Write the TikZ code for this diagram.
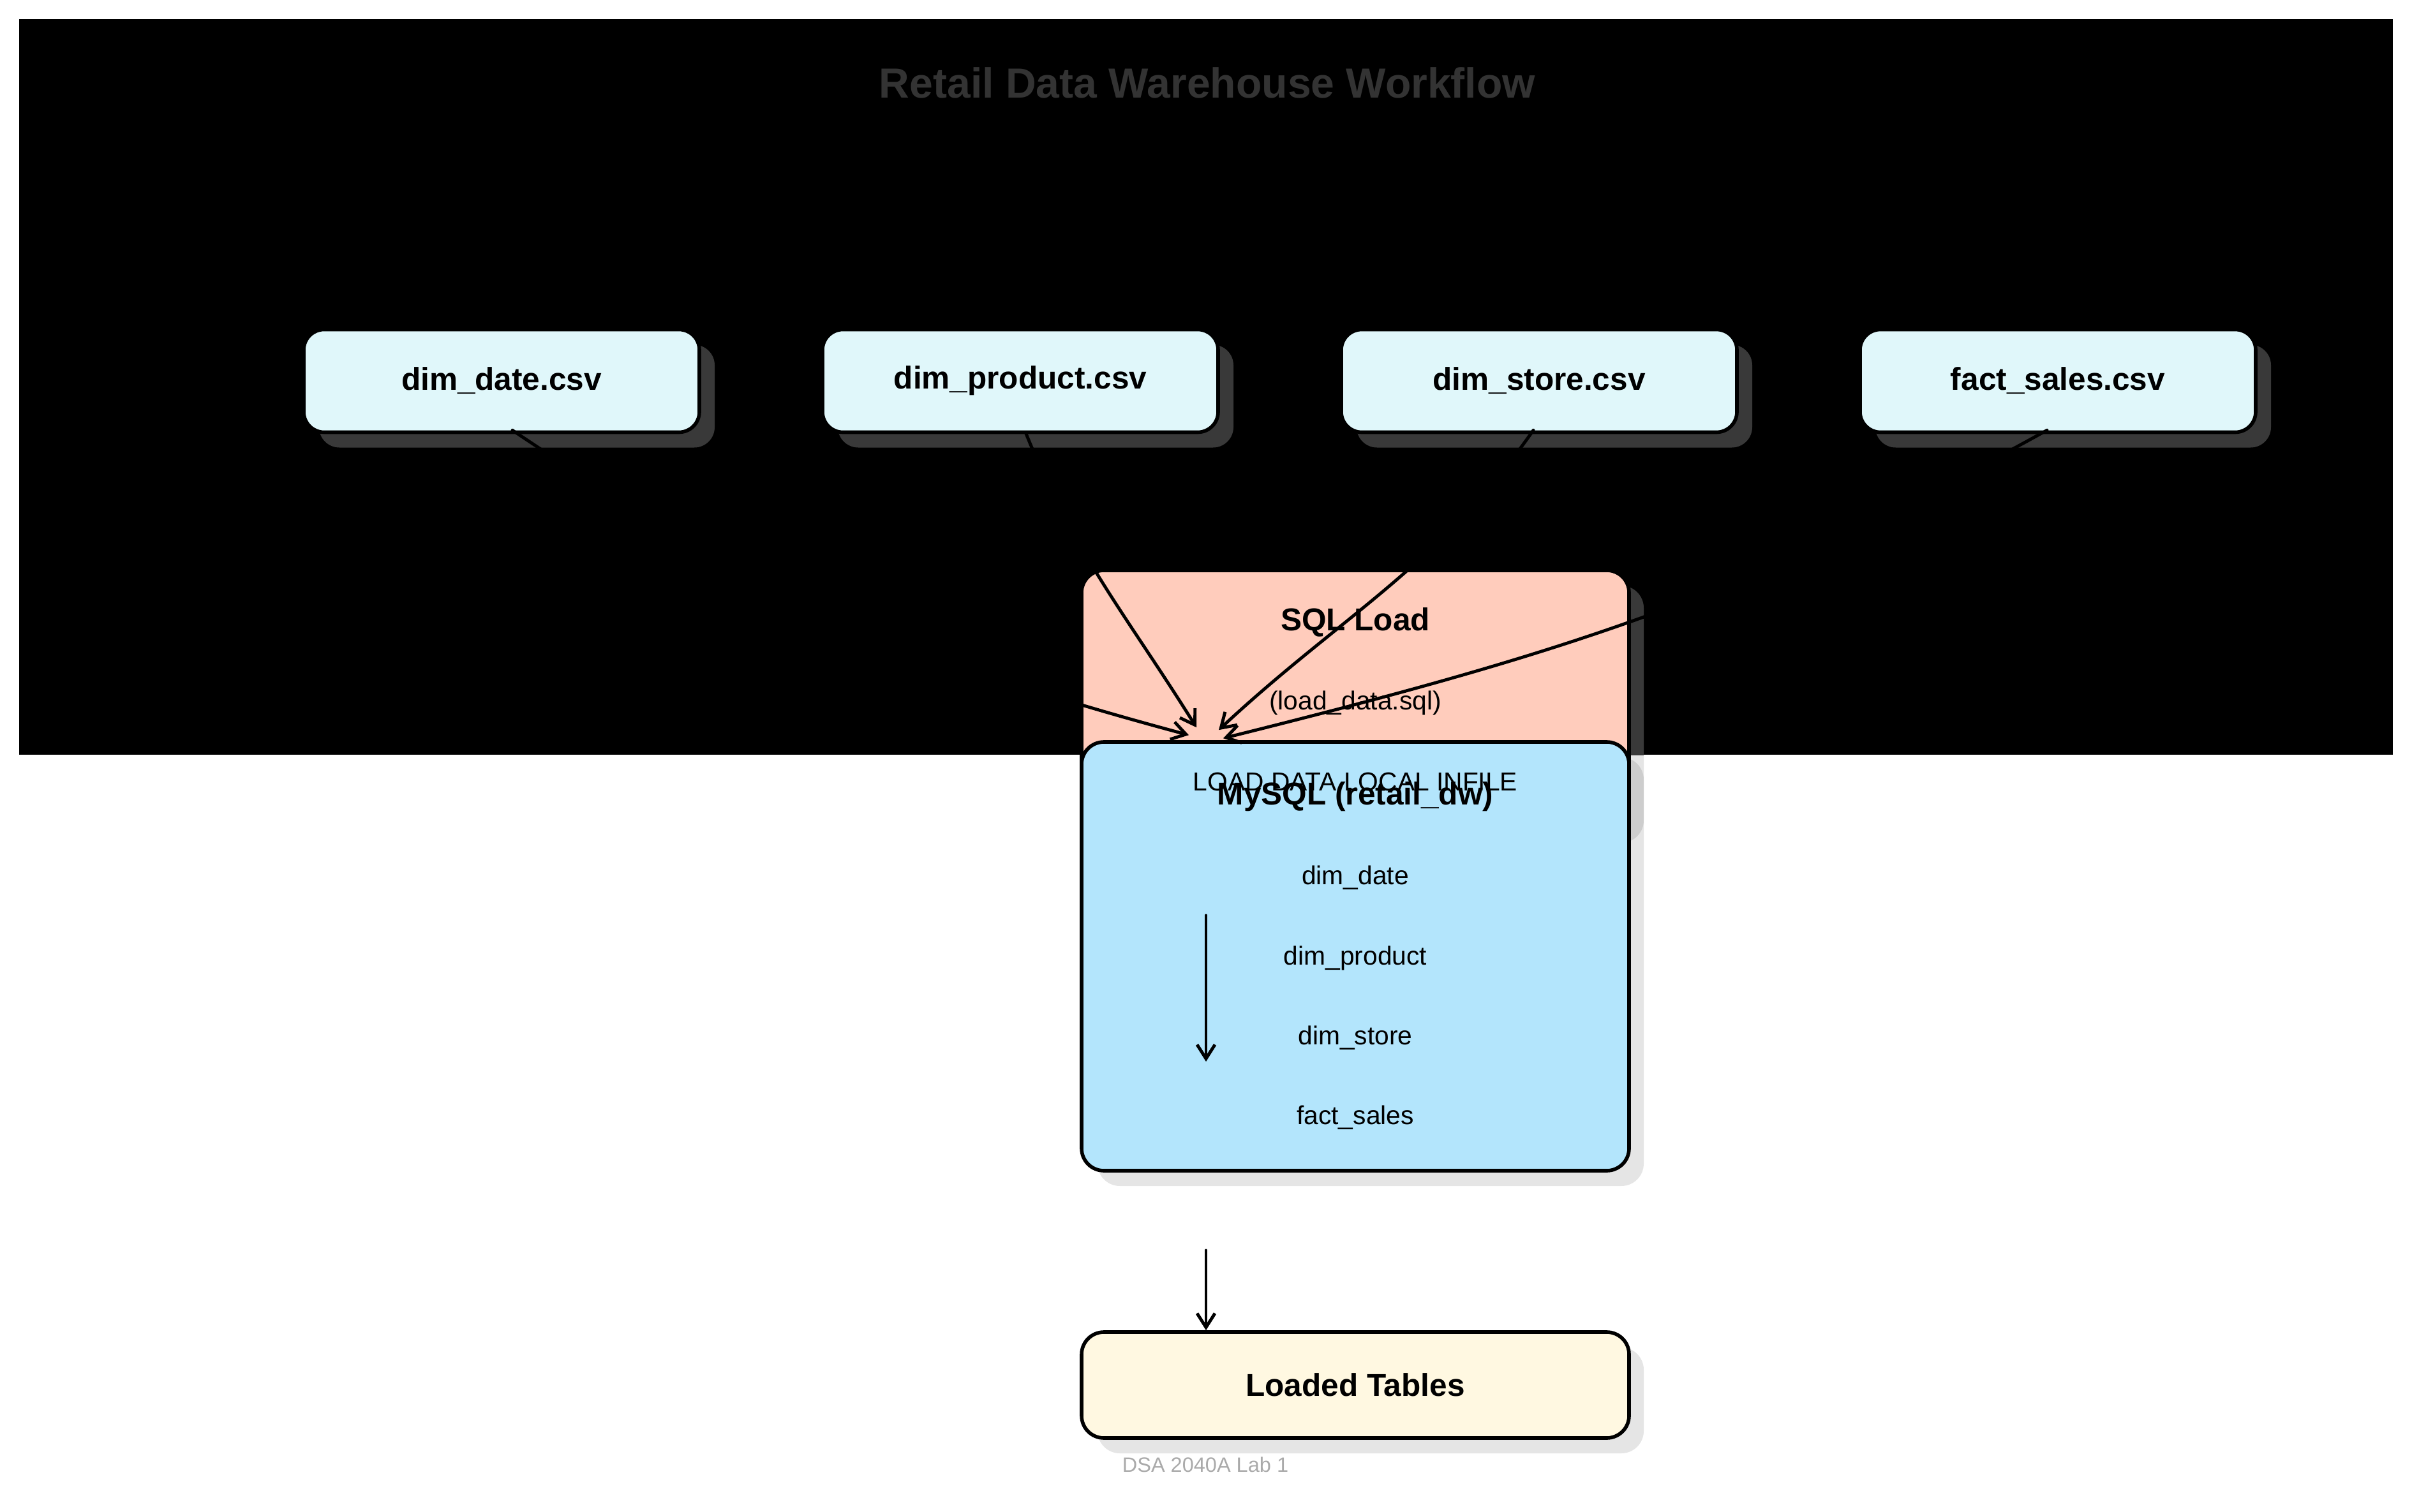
\documentclass[tikz,border=0pt]{standalone}
\usepackage{fontspec}
\setmainfont{Liberation Sans}
\usepackage{tikz}
\usetikzlibrary{calc,arrows.meta}
\usepackage{xcolor}

\definecolor{csvfill}{HTML}{E0F7FA}
\definecolor{sqlfill}{HTML}{FFCCBC}
\definecolor{dbfill}{HTML}{B3E5FC}
\definecolor{outfill}{HTML}{FFF8E1}
\definecolor{titlegray}{HTML}{333333}
\definecolor{footgray}{HTML}{AAAAAA}
\definecolor{darkshade}{HTML}{393939}

\newcommand{\boldtxt}{\fontsize{14.1}{17}\selectfont\bfseries}
\newcommand{\plaintxt}{\fontsize{11.6}{14}\selectfont}
\newcommand{\titletxt}{\fontsize{18.8}{22}\selectfont\bfseries}

\begin{document}
\begin{tikzpicture}[
        >={Straight Barb[length=2.2mm,width=2.8mm]},
        csv/.style={draw, fill=csvfill, line width=1.6pt, rounded corners=0.32cm,
            minimum width=6.2cm, minimum height=1.61cm, font=\boldtxt},
        stage/.style={draw, line width=1.6pt, rounded corners=0.35cm, minimum width=8.58cm},
        flow/.style={->, line width=1.4pt, line cap=round},
        lightshade/.style={fill=black, opacity=0.1, rounded corners=0.35cm}
    ]
        \useasboundingbox (0, 0) rectangle (37.8, -23.7);
        \fill[white] (0, 0) rectangle (37.8, -23.7);
        \fill[black] (0.3, -0.3) rectangle (37.5, -11.83);

        \node[font=\titletxt, text=titlegray] (title) at (18.92, -1.3) {Retail Data Warehouse Workflow};

        % shadows
        \foreach \x in {7.86, 15.99, 24.12, 32.25}
            \fill[darkshade, rounded corners=0.32cm] (\x - 2.86, -5.405) rectangle (\x + 3.34, -7.015);
        \fill[lightshade] (17.2, -9.18) rectangle (25.76, -13.21);
        \fill[lightshade] (17.2, -11.87) rectangle (25.76, -18.59);
        \fill[lightshade] (17.2, -21.12) rectangle (25.76, -22.78);
        \begin{scope}
            \clip (0.3, -0.3) rectangle (37.5, -11.83);
            \fill[darkshade, rounded corners=0.35cm] (17.2, -9.18) rectangle (25.76, -13.21);
        \end{scope}

        % csv files
        \node[csv] (date) at (7.86, -5.97) {dim\_date.csv};
        \node[csv] (product) at (15.99, -5.97) {dim\_product.csv};
        \node[csv] (store) at (24.12, -5.97) {dim\_store.csv};
        \node[csv] (sales) at (32.25, -5.97) {fact\_sales.csv};

        % load step, database, result
        \node[stage, fill=sqlfill, minimum height=4.03cm] (sqlload) at (21.24, -10.955) {};
        \node[stage, fill=dbfill, minimum height=6.72cm] (mysql) at (21.24, -14.99) {};
        \node[stage, fill=outfill, minimum height=1.66cm, font=\boldtxt] (loaded) at (21.24, -21.71) {Loaded Tables};

        \draw[flow] ([xshift=1.7mm, yshift=0.6mm]date.south) to[out=-34, in=165] ([xshift=-2.61cm, yshift=0.8mm]mysql.north);
        \draw[flow] ([xshift=0.8mm, yshift=0.3mm]product.south) to[out=-68, in=122] ([xshift=-2.49cm, yshift=2mm]mysql.north);
        \draw[flow] ([xshift=-0.9mm, yshift=0.6mm]store.south) to[out=-125, in=43] ([xshift=-2.14cm, yshift=1.6mm]mysql.north);
        \draw[flow] ([xshift=-1.7mm, yshift=0.6mm]sales.south) to[out=-151, in=14] ([xshift=-2.07cm, yshift=0.3mm]mysql.north);

        \node[font=\boldtxt] (sqltitle) at (21.24, -9.75) {SQL Load};
        \node[font=\plaintxt] (sqlfile) at (21.24, -11.02) {(load\_data.sql)};
        \node[font=\plaintxt] (sqlcmd) at (21.24, -12.25) {LOAD DATA LOCAL INFILE};
        \node[font=\boldtxt] (dbtitle) at (21.24, -12.49) {MySQL (retail\_dw)};

        \foreach \name/\y in {dim\_date/-13.76, dim\_product/-15.02, dim\_store/-16.27, fact\_sales/-17.52}
            \node[font=\plaintxt] at (21.24, \y) {\name};

        \coordinate (ordtop) at (18.9, -14.35);
        \coordinate (ordend) at (18.9, -16.64);
        \draw[flow] (ordtop) -- (ordend);

        \coordinate (outtop) at (18.9, -19.6);
        \draw[flow] (outtop) -- (outtop |- loaded.north);

        \node[font=\fontsize{9.25}{11}\selectfont, text=footgray] (footer) at (18.89, -22.96) {DSA 2040A Lab 1};
    \end{tikzpicture}
\end{document}
